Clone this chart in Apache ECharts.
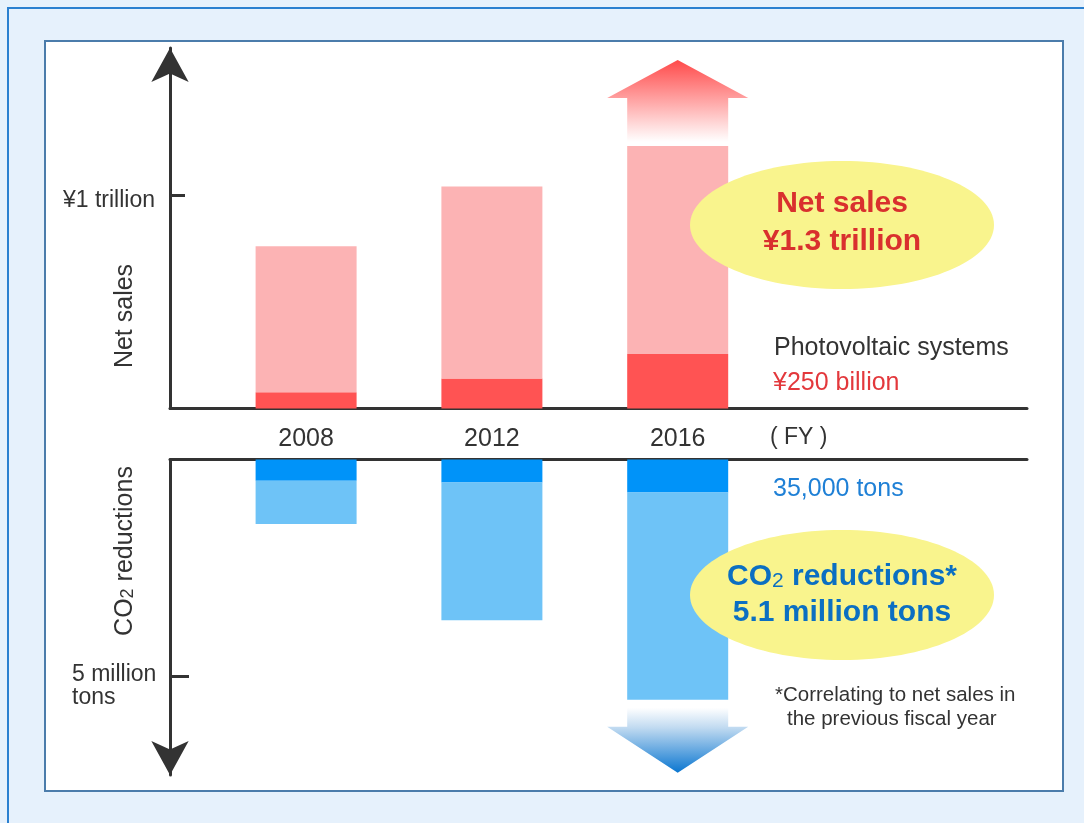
<!DOCTYPE html>
<html><head><meta charset="utf-8">
<script src="https://cdn.jsdelivr.net/npm/echarts@6/dist/echarts.min.js"></script>
<style>html,body{margin:0;padding:0;background:#e6f1fc}#c{width:1084px;height:823px}</style>
</head><body><div id="c"></div>
<script>
// ---- data ----
const years = [2008, 2012, 2016];
const salesPV = [0.076, 0.14, 0.255];      // ¥ trillion – photovoltaic systems
const salesOther = [0.684, 0.90, 0.975];   // ¥ trillion – remaining net sales
const co2PV = [0.49, 0.53, 0.76];          // million tons – dark segment
const co2Other = [1.00, 3.18, 4.79];       // million tons – light segment
const salesTicks = [1];
const salesTickLabels = ['¥1 trillion'];
const co2Ticks = [5];
const co2TickLabels = [['5 million', 'tons']];

const FONT = 'Liberation Sans, Arial, Helvetica, sans-serif';
const AX = '#333333';
const chart = echarts.init(document.getElementById('c'), null, {renderer: 'canvas'});

// value first, year second (encode maps them) so stacking happens on the value dimension
function pair(xs, ys) { return xs.map((x, i) => [ys[i], x]); }
const last = years.length - 1;

function arrowItem(params, api) {
  const p = api.coord([api.value(0), api.value(1)]);
  const up = api.value(2) > 0;
  const hw = 50.5, hh = 70.5;
  let pts, grad;
  if (up) {
    const b = p[1] - 4, h = p[1] - 48, t = p[1] - 86;
    pts = [[p[0]-hw,b],[p[0]-hw,h],[p[0]-hh,h],[p[0],t],[p[0]+hh,h],[p[0]+hw,h],[p[0]+hw,b]];
    grad = new echarts.graphic.LinearGradient(0, 1, 0, 0, [
      {offset: 0, color: '#ffffff'}, {offset: 0.2, color: '#ffdcdc'},
      {offset: 0.55, color: '#ff9c9c'}, {offset: 1, color: '#ff4a4a'}]);
  } else {
    const b = p[1] + 8, h = p[1] + 27, t = p[1] + 73;
    pts = [[p[0]-hw,b],[p[0]-hw,h],[p[0]-hh,h],[p[0],t],[p[0]+hh,h],[p[0]+hw,h],[p[0]+hw,b]];
    grad = new echarts.graphic.LinearGradient(0, 0, 0, 1, [
      {offset: 0, color: '#ffffff'}, {offset: 0.3, color: '#c2dbf1'},
      {offset: 1, color: '#0a76d0'}]);
  }
  return {type: 'polygon', shape: {points: pts}, style: {fill: grad}};
}

function barSeries(name, xi, stack, vals, color) {
  return {type: 'bar', name: name, xAxisIndex: xi, yAxisIndex: xi, stack: stack, barWidth: 101,
    encode: {x: 1, y: 0}, data: pair(years, vals), itemStyle: {color: color}};
}

const option = {
  backgroundColor: '#e6f1fc',
  animation: false,
  textStyle: {fontFamily: FONT},
  grid: [
    {left: 170, right: 57, top: 48, bottom: 823 - 408.5},
    {left: 170, right: 57, top: 459.5, bottom: 48}
  ],
  xAxis: [
    {gridIndex: 0, type: 'value', min: 2005.07, max: 2023.52, position: 'bottom',
     axisLine: {show: true, lineStyle: {color: AX, width: 3}},
     axisTick: {show: false}, splitLine: {show: false},
     axisLabel: {customValues: years, formatter: v => String(v), color: '#333', fontSize: 25, margin: 18, fontFamily: FONT}},
    {gridIndex: 1, type: 'value', min: 2005.07, max: 2023.52, position: 'top',
     axisLine: {show: true, lineStyle: {color: AX, width: 3}},
     axisTick: {show: false}, splitLine: {show: false}, axisLabel: {show: false}}
  ],
  yAxis: [
    {gridIndex: 0, type: 'value', min: 0, max: 1.6885,
     axisLine: {show: true, symbol: ['none', 'arrow'], symbolSize: [28, 34], lineStyle: {color: AX, width: 3}},
     axisTick: {show: true, inside: true, length: 15, customValues: salesTicks, lineStyle: {color: AX, width: 3}},
     axisLabel: {customValues: salesTicks,
       formatter: v => '{a|' + (salesTickLabels[salesTicks.indexOf(v)] || '') + '}',
       margin: 15, rich: {a: {color: '#333', fontSize: 23, lineHeight: 24, padding: [11, 0, 0, 0], fontFamily: FONT}}},
     splitLine: {show: false}},
    {gridIndex: 1, type: 'value', min: 0, max: 7.286, inverse: true,
     axisLine: {show: true, symbol: ['arrow', 'none'], symbolSize: [28, 34], lineStyle: {color: AX, width: 3}},
     axisTick: {show: true, inside: true, length: 19, customValues: co2Ticks, lineStyle: {color: AX, width: 3}},
     axisLabel: {customValues: co2Ticks,
       formatter: v => { const l = co2TickLabels[co2Ticks.indexOf(v)] || ['', '']; return '{c| }\n{a|' + l[0] + '}\n{a|' + l[1] + '}'; },
       align: 'left', margin: 98,
       rich: {a: {color: '#333', fontSize: 23, lineHeight: 23, fontFamily: FONT},
              c: {fontSize: 10, lineHeight: 21, fontFamily: FONT}}},
     splitLine: {show: false}}
  ],
  series: [
    barSeries('Photovoltaic systems', 0, 'sales', salesPV, '#ff5353'),
    barSeries('Net sales', 0, 'sales', salesOther, '#fcb3b4'),
    barSeries('CO2 (photovoltaic)', 1, 'co2', co2PV, '#0093f9'),
    barSeries('CO2 reductions', 1, 'co2', co2Other, '#6ec3f7'),
    {type: 'custom', xAxisIndex: 0, yAxisIndex: 0, clip: false, renderItem: arrowItem, z: 3,
     data: [[years[last], salesPV[last] + salesOther[last], 1]]},
    {type: 'custom', xAxisIndex: 1, yAxisIndex: 1, clip: false, renderItem: arrowItem, z: 3,
     data: [[years[last], co2PV[last] + co2Other[last], -1]]}
  ],
  graphic: [
    {type: 'rect', z: -10, silent: true, shape: {x: 8, y: 8, width: 1200, height: 1000},
     style: {fill: '#e6f1fc', stroke: '#2b80d0', lineWidth: 2}},
    {type: 'rect', z: -9, silent: true, shape: {x: 45, y: 41, width: 1018, height: 750},
     style: {fill: '#ffffff', stroke: '#4b7cab', lineWidth: 2}},
    {type: 'text', z: 50, x: 125, y: 316, rotation: Math.PI / 2,
     style: {text: 'Net sales', fill: '#333', font: '25px ' + FONT, align: 'center', verticalAlign: 'middle'}},
    {type: 'text', z: 50, x: 125, y: 551, rotation: Math.PI / 2,
     style: {text: 'CO{s|2} reductions', fill: '#333', font: '25px ' + FONT, align: 'center', verticalAlign: 'middle',
       rich: {s: {fontSize: 18, fontFamily: FONT, fill: '#333', padding: [6, 0, 0, 0]}}}},
    {type: 'text', z: 50, x: 770, y: 438,
     style: {text: '( FY )', fill: '#333', font: '23px ' + FONT, align: 'left', verticalAlign: 'middle'}},
    {type: 'text', z: 50, x: 774, y: 348,
     style: {text: 'Photovoltaic systems', fill: '#333', font: '25px ' + FONT, align: 'left', verticalAlign: 'middle'}},
    {type: 'text', z: 50, x: 773, y: 383,
     style: {text: '¥250 billion', fill: '#e3383c', font: '25px ' + FONT, align: 'left', verticalAlign: 'middle'}},
    {type: 'text', z: 50, x: 773, y: 489,
     style: {text: '35,000 tons', fill: '#1f80d6', font: '25px ' + FONT, align: 'left', verticalAlign: 'middle'}},
    {type: 'ellipse', z: 40, shape: {cx: 842, cy: 225, rx: 152, ry: 64}, style: {fill: '#f9f48d'}},
    {type: 'text', z: 50, x: 842, y: 204,
     style: {text: 'Net sales', fill: '#d9302e', font: 'bold 30px ' + FONT, align: 'center', verticalAlign: 'middle'}},
    {type: 'text', z: 50, x: 842, y: 242,
     style: {text: '¥1.3 trillion', fill: '#d9302e', font: 'bold 30px ' + FONT, align: 'center', verticalAlign: 'middle'}},
    {type: 'ellipse', z: 40, shape: {cx: 842, cy: 595, rx: 152, ry: 65}, style: {fill: '#f9f48d'}},
    {type: 'text', z: 50, x: 842, y: 577,
     style: {text: 'CO{s|2} reductions*', fill: '#0b6fc2', font: 'bold 30px ' + FONT, align: 'center', verticalAlign: 'middle',
       rich: {s: {fontSize: 21, fontWeight: 'normal', fontFamily: FONT, fill: '#0b6fc2', padding: [8, 0, 0, 0]}}}},
    {type: 'text', z: 50, x: 842, y: 613,
     style: {text: '5.1 million tons', fill: '#0b6fc2', font: 'bold 30px ' + FONT, align: 'center', verticalAlign: 'middle'}},
    {type: 'text', z: 50, x: 775, y: 695,
     style: {text: '*Correlating to net sales in', fill: '#333', font: '20.5px ' + FONT, align: 'left', verticalAlign: 'middle'}},
    {type: 'text', z: 50, x: 787, y: 719,
     style: {text: 'the previous fiscal year', fill: '#333', font: '20.5px ' + FONT, align: 'left', verticalAlign: 'middle'}}
  ]
};
chart.setOption(option);
</script></body></html>
